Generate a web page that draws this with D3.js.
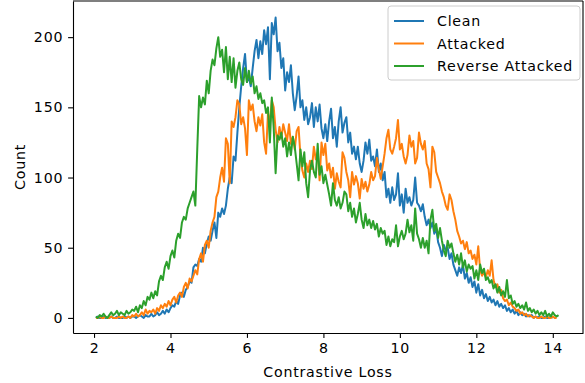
<!DOCTYPE html>
<html>
<head>
<meta charset="utf-8">
<script src="https://cdn.jsdelivr.net/npm/d3@7"></script>
<style>
  body { margin: 0; background: #fff; }
  text { font-family: "DejaVu Sans", sans-serif; }
</style>
</head>
<body>
<svg id="chart" width="585" height="383"></svg>
<script>
// histogram bins: centres start at 2.05, one every 0.05
const binStart = 2.05, binStep = 0.05;

const clean = [
  0,1,0,0,1,0,0,0,1,0,0,1,0,0,0,1,0,1,0,1,
  1,0,1,2,1,0,2,1,1,3,1,2,4,2,3,5,3,6,4,7,
  9,8,12,10,16,18,15,20,22,26,25,36,38,37,42,40,50,46,53,58,
  55,62,68,57,75,72,78,74,80,92,100,96,115,112,132,150,165,178,188,168,
  172,165,178,190,198,185,197,188,205,195,207,170,210,202,214,190,196,178,185,162,
  175,168,180,160,148,158,172,150,155,141,150,138,143,153,136,150,140,152,135,128,
  138,126,140,149,128,136,122,140,150,132,139,143,125,132,117,122,113,122,110,104,
  112,125,117,127,112,115,108,120,104,110,98,104,86,92,82,93,84,88,103,80,
  88,75,92,82,86,80,84,100,82,80,76,81,72,66,70,64,68,60,64,54,
  50,44,52,48,50,42,46,38,34,30,36,32,38,28,32,25,29,22,26,18,
  24,16,20,14,17,12,15,11,13,9,12,8,10,7,9,5,7,4,6,3,
  5,2,4,2,3,1,2,1,2,0,1,0,1,0,0,1,0,0,1,0,
  null,null,null,null
];

const attacked = [
  0,0,1,0,0,1,0,0,1,0,0,0,1,0,1,0,0,1,0,2,
  1,3,1,2,4,2,6,3,5,4,6,3,7,5,9,7,10,8,12,9,
  13,15,11,16,18,15,22,25,21,28,26,30,34,31,42,46,40,52,55,50,
  62,68,72,86,90,100,107,97,128,124,96,140,136,143,155,152,138,143,135,116,
  155,148,152,140,133,143,137,145,125,117,146,138,155,150,134,125,136,128,138,132,
  126,138,124,129,120,133,136,115,105,100,110,104,112,106,122,113,118,98,125,116,
  124,105,110,100,107,92,103,97,93,118,114,104,98,86,104,95,101,96,85,99,
  92,97,90,95,104,98,101,114,106,99,108,117,128,134,120,117,122,128,141,120,
  124,115,110,116,130,122,126,110,114,132,124,120,126,110,106,93,122,118,104,100,
  96,90,86,80,77,88,84,76,70,62,58,53,55,49,54,46,48,42,45,38,
  51,34,30,33,29,34,30,41,27,22,24,18,20,14,12,13,9,11,8,7,
  5,6,3,4,2,3,1,2,1,0,1,0,0,1,0,0,1,0,0,1,
  0,0,null,null
];

const reverseAttacked = [
  1,0,2,1,3,1,0,2,4,2,3,5,2,4,3,2,5,3,4,6,
  5,8,4,9,7,12,9,15,13,18,14,19,16,26,30,27,36,40,35,44,
  48,43,55,60,57,68,72,70,78,82,86,90,80,120,158,150,157,152,169,160,
  176,184,180,192,200,186,191,175,193,170,186,168,185,164,176,182,170,166,178,168,
  176,167,172,160,165,156,160,153,155,146,150,125,157,135,103,130,127,132,122,128,
  115,125,116,129,122,110,98,120,108,118,96,86,105,112,104,100,124,102,108,96,
  102,95,88,80,96,84,80,86,78,82,90,88,76,82,72,78,68,74,82,70,
  64,74,66,70,64,69,63,67,58,64,60,62,52,58,51,56,54,66,51,58,
  62,56,60,70,61,66,55,78,60,56,50,57,50,55,46,70,77,62,67,57,
  64,55,48,44,55,50,53,46,40,45,38,46,36,41,33,38,35,37,28,34,
  27,38,32,35,27,29,25,27,21,24,18,22,16,19,15,27,14,16,10,12,
  8,10,7,9,6,11,5,7,4,6,3,5,2,4,2,5,1,3,1,4,
  2,1,2,null
];

const seriesNames = ["Clean", "Attacked", "Reverse Attacked"];
const seriesColors = ["#1f77b4", "#ff7f0e", "#2ca02c"];
const xTicks = [2, 4, 6, 8, 10, 12, 14];
const yTicks = [0, 50, 100, 150, 200];

const svgWidth = 585, svgHeight = 383;
const margin = { top: 1, right: 2, bottom: 50, left: 73 };
const width = svgWidth - margin.left - margin.right;
const height = svgHeight - margin.top - margin.bottom;
const fontSize = 14.2;
const spacing = 0.75;

const svg = d3.select("#chart");
const g = svg.append("g")
  .attr("transform", "translate(" + margin.left + "," + margin.top + ")");

const x = d3.scaleLinear().domain([1.45, 14.79]).range([0, width]);
const y = d3.scaleLinear().domain([-10.75, 225.75]).range([height, 0]);

const series = [clean, attacked, reverseAttacked].map((vals, k) => ({
  name: seriesNames[k],
  color: seriesColors[k],
  points: vals.map((v, i) => [binStart + i * binStep, v])
}));

const line = d3.line()
  .defined(d => d[1] != null)
  .x(d => x(d[0]))
  .y(d => y(d[1]));

series.forEach(s => {
  g.append("path")
    .datum(s.points)
    .attr("fill", "none")
    .attr("stroke", s.color)
    .attr("stroke-width", 2)
    .attr("stroke-linejoin", "round")
    .attr("d", line);
});

// axes
const xAxis = g.append("g")
  .attr("transform", "translate(0," + height + ")")
  .call(d3.axisBottom(x).tickValues(xTicks).tickFormat(d3.format("d"))
    .tickSizeInner(4.9).tickSizeOuter(0).tickPadding(5));

const yAxis = g.append("g")
  .call(d3.axisLeft(y).tickValues(yTicks).tickFormat(d3.format("d"))
    .tickSizeInner(4.9).tickSizeOuter(0).tickPadding(4.9));

[xAxis, yAxis].forEach(a => {
  a.selectAll("text")
    .attr("font-size", fontSize)
    .attr("font-family", "DejaVu Sans")
    .attr("letter-spacing", spacing)
    .attr("fill", "#000");
  a.selectAll("line").attr("stroke", "#000").attr("stroke-width", 1.1);
  a.select(".domain").attr("stroke", "#000").attr("stroke-width", 1.1);
});

// top and right spines
g.append("line").attr("x1", 0).attr("x2", width).attr("y1", 0).attr("y2", 0)
  .attr("stroke", "#000").attr("stroke-width", 1.1);
g.append("line").attr("x1", width).attr("x2", width).attr("y1", 0).attr("y2", height)
  .attr("stroke", "#000").attr("stroke-width", 1.1);

// axis labels
svg.append("text")
  .attr("x", margin.left + width / 2)
  .attr("y", 377)
  .attr("text-anchor", "middle")
  .attr("font-size", fontSize)
  .attr("letter-spacing", spacing)
  .text("Contrastive Loss");

svg.append("text")
  .attr("transform", "translate(25," + (margin.top + height / 2) + ") rotate(-90)")
  .attr("text-anchor", "middle")
  .attr("font-size", fontSize)
  .attr("letter-spacing", spacing)
  .text("Count");

// legend
const legend = svg.append("g").attr("transform", "translate(388,6)");
legend.append("rect")
  .attr("x", 0).attr("y", 0)
  .attr("width", 192).attr("height", 74)
  .attr("rx", 3)
  .attr("fill", "#fff").attr("fill-opacity", 0.8)
  .attr("stroke", "#cccccc").attr("stroke-width", 1);

series.forEach((s, k) => {
  const row = legend.append("g").attr("transform", "translate(0," + (15 + k * 22.5) + ")");
  row.append("line")
    .attr("x1", 6).attr("x2", 36)
    .attr("stroke", s.color).attr("stroke-width", 2);
  row.append("text")
    .attr("x", 49).attr("y", 5)
    .attr("font-size", fontSize)
    .attr("letter-spacing", spacing)
    .text(s.name);
});
</script>
</body>
</html>
